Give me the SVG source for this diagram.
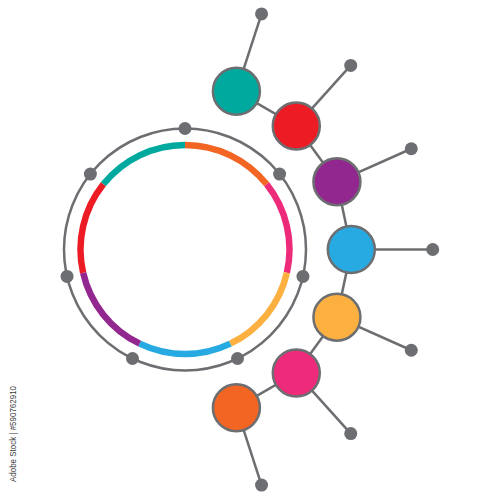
<svg xmlns="http://www.w3.org/2000/svg" width="500" height="500" viewBox="0 0 500 500">
<style>
.ln{stroke:#6d6e71;stroke-width:2.5;fill:none}
.dot{fill:#6d6e71}
.seg{fill:none;stroke-width:6.5}
.node{stroke:#6d6e71;stroke-width:2.5}
.wm{font-family:"Liberation Sans",Arial,sans-serif;font-size:9px;fill:#3a3a3a}
</style>
<rect width="500" height="500" fill="#ffffff"/>
<g id="hub">
<circle class="ln" cx="185" cy="249.5" r="121"/>
<path class="seg" stroke="#00a99d" d="M103.30,184.34 A104.5,104.5 0 0 1 185,145"/>
<path class="seg" stroke="#f26522" d="M185,145 A104.5,104.5 0 0 1 266.70,184.34"/>
<path class="seg" stroke="#ee2a7b" d="M266.70,184.34 A104.5,104.5 0 0 1 286.88,272.75"/>
<path class="seg" stroke="#fbb040" d="M286.88,272.75 A104.5,104.5 0 0 1 230.34,343.65"/>
<path class="seg" stroke="#27aae1" d="M230.34,343.65 A104.5,104.5 0 0 1 139.66,343.65"/>
<path class="seg" stroke="#92278f" d="M139.66,343.65 A104.5,104.5 0 0 1 83.12,272.75"/>
<path class="seg" stroke="#ed1c24" d="M83.12,272.75 A104.5,104.5 0 0 1 103.30,184.34"/>
<circle class="dot" cx="185" cy="128.5" r="6.5"/>
<circle class="dot" cx="279.6" cy="174.06" r="6.5"/>
<circle class="dot" cx="302.96" cy="276.42" r="6.5"/>
<circle class="dot" cx="237.5" cy="358.52" r="6.5"/>
<circle class="dot" cx="132.5" cy="358.52" r="6.5"/>
<circle class="dot" cx="67.04" cy="276.42" r="6.5"/>
<circle class="dot" cx="90.4" cy="174.06" r="6.5"/>
</g>
<g id="connectors">
<polyline class="ln" points="236.39,91.33 296.28,125.92 336.92,181.87 351.3,249.5 336.92,317.13 296.28,373.08 236.39,407.67"/>
<line class="ln" x1="236.39" y1="91.33" x2="261.54" y2="13.92"/>
<line class="ln" x1="296.28" y1="125.92" x2="350.74" y2="65.43"/>
<line class="ln" x1="336.92" y1="181.87" x2="411.28" y2="148.76"/>
<line class="ln" x1="351.3" y1="249.5" x2="432.7" y2="249.5"/>
<line class="ln" x1="336.92" y1="317.13" x2="411.28" y2="350.26"/>
<line class="ln" x1="296.28" y1="373.08" x2="350.74" y2="433.57"/>
<line class="ln" x1="236.39" y1="407.67" x2="261.54" y2="485.08"/>
<circle class="dot" cx="261.54" cy="13.92" r="6.5"/>
<circle class="dot" cx="350.74" cy="65.43" r="6.5"/>
<circle class="dot" cx="411.28" cy="148.76" r="6.5"/>
<circle class="dot" cx="432.7" cy="249.5" r="6.5"/>
<circle class="dot" cx="411.28" cy="350.26" r="6.5"/>
<circle class="dot" cx="350.74" cy="433.57" r="6.5"/>
<circle class="dot" cx="261.54" cy="485.08" r="6.5"/>
</g>
<g id="node-teal"><circle class="node" fill="#00a99d" cx="236.39" cy="91.33" r="23.5"/></g>
<g id="node-red"><circle class="node" fill="#ed1c24" cx="296.28" cy="125.92" r="23.5"/></g>
<g id="node-purple"><circle class="node" fill="#92278f" cx="336.92" cy="181.87" r="23.5"/></g>
<g id="node-blue"><circle class="node" fill="#27aae1" cx="351.3" cy="249.5" r="23.5"/></g>
<g id="node-yellow"><circle class="node" fill="#fbb040" cx="336.92" cy="317.13" r="23.5"/></g>
<g id="node-pink"><circle class="node" fill="#ee2a7b" cx="296.28" cy="373.08" r="23.5"/></g>
<g id="node-orange"><circle class="node" fill="#f26522" cx="236.39" cy="407.67" r="23.5"/></g>
<text class="wm" transform="translate(15.5,434) rotate(-90)" text-anchor="middle" textLength="96" lengthAdjust="spacingAndGlyphs">Adobe Stock | #590762910</text>
</svg>
